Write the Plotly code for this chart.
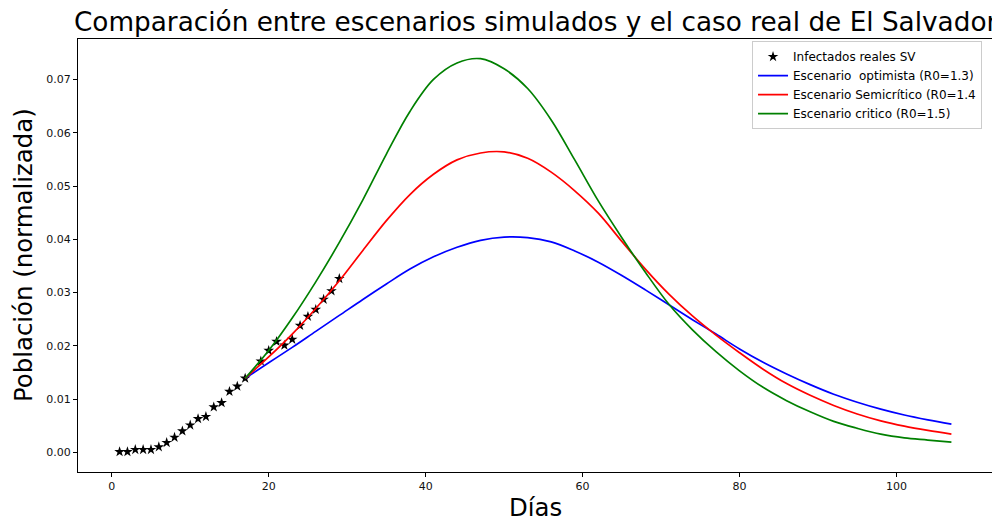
import plotly.graph_objects as go

# Real infected (normalized), El Salvador
real_days = [1, 2, 3, 4, 5, 6, 7, 8, 9, 10, 11, 12, 13, 14, 15, 16, 17,
             19, 20, 21, 22, 23, 24, 25, 26, 27, 28, 29]
real_vals = [0.0001, 0.0001, 0.0005, 0.0005, 0.0005, 0.0010, 0.0018, 0.0028,
             0.0040, 0.0051, 0.0063, 0.0067, 0.0085, 0.0093, 0.0114, 0.0124,
             0.0139, 0.0171, 0.0191, 0.0208, 0.0201, 0.0212, 0.0238, 0.0255,
             0.0268, 0.0287, 0.0303, 0.0326]

# Simulated scenarios (sampled every 3 days)
sim_days = [17, 20, 23, 26, 29, 32, 35, 38, 41, 44, 47, 50, 53, 56, 59, 62,
            65, 68, 71, 74, 77, 80, 83, 86, 89, 92, 95, 98, 101, 104, 107]
optimista = [0.0139, 0.0168, 0.0197, 0.0227, 0.0257, 0.0287, 0.0316, 0.0344,
             0.0367, 0.0385, 0.0398, 0.0404, 0.0403, 0.0395, 0.0378, 0.0357,
             0.0332, 0.0305, 0.0277, 0.0249, 0.0222, 0.0194, 0.0169, 0.0147,
             0.0127, 0.0109, 0.0094, 0.0081, 0.0070, 0.0061, 0.0053]
semicritico = [0.0139, 0.0179, 0.0222, 0.0270, 0.0322, 0.0379, 0.0435, 0.0484,
               0.0522, 0.0549, 0.0562, 0.0564, 0.0552, 0.0526, 0.0491, 0.0449,
               0.0396, 0.0344, 0.0297, 0.0256, 0.0220, 0.0187, 0.0156, 0.0129,
               0.0107, 0.0088, 0.0072, 0.0059, 0.0049, 0.0041, 0.0034]
critico = [0.0139, 0.0191, 0.0252, 0.0320, 0.0394, 0.0474, 0.0560, 0.0640,
           0.0700, 0.0731, 0.0739, 0.0720, 0.0683, 0.0624, 0.0549, 0.0472,
           0.0403, 0.0338, 0.0278, 0.0230, 0.0189, 0.0153, 0.0122, 0.0097,
           0.0076, 0.0058, 0.0045, 0.0034, 0.0027, 0.0023, 0.0019]

x_ticks = [0, 20, 40, 60, 80, 100]
y_ticks = [0.00, 0.01, 0.02, 0.03, 0.04, 0.05, 0.06, 0.07]

FONT = "DejaVu Sans"

fig = go.Figure()
fig.add_trace(go.Scatter(
    x=real_days, y=real_vals, mode="markers", name="Infectados reales SV",
    marker=dict(symbol="star", size=8, color="black", line=dict(width=0))))
fig.add_trace(go.Scatter(
    x=sim_days, y=optimista, mode="lines", name="Escenario \u00a0optimista (R0=1.3)",
    line=dict(color="#0000ff", width=1.7, shape="spline", smoothing=1.0)))
fig.add_trace(go.Scatter(
    x=sim_days, y=semicritico, mode="lines", name="Escenario Semicrítico (R0=1.4",
    line=dict(color="#ff0000", width=1.7, shape="spline", smoothing=1.0)))
fig.add_trace(go.Scatter(
    x=sim_days, y=critico, mode="lines", name="Escenario critico (R0=1.5)",
    line=dict(color="#008000", width=1.7, shape="spline", smoothing=1.0)))

axis_common = dict(
    showline=True, linecolor="black", linewidth=1, mirror=True,
    ticks="outside", ticklen=4, tickcolor="black", tickwidth=1,
    showgrid=False, zeroline=False, automargin=False,
    tickfont=dict(family=FONT, size=11, color="#111111"),
)

# The page body has an 8px margin, so the figure is sized 992x513
fig.update_layout(
    width=992, height=513,
    paper_bgcolor="white", plot_bgcolor="white",
    margin=dict(l=70, r=7, t=31, b=49, autoexpand=False),
    font=dict(family=FONT, color="black"),
    xaxis=dict(range=[-4.3, 112.3], tickvals=x_ticks,
               ticktext=[str(v) for v in x_ticks], **axis_common),
    yaxis=dict(range=[-0.0037, 0.0776], tickvals=y_ticks,
               ticktext=[f"{v:.2f}" for v in y_ticks], **axis_common),
    legend=dict(x=0.988, y=0.995, xanchor="right", yanchor="top",
                bgcolor="white", bordercolor="#cccccc", borderwidth=1,
                font=dict(family=FONT, size=12, color="black"),
                tracegroupgap=0, itemwidth=30),
    showlegend=True,
    annotations=[
        dict(text="Comparación entre escenarios simulados y el caso real de El Salvador",
             xref="paper", yref="paper", x=0.5, y=1 + 17 / 433,
             xanchor="center", yanchor="middle", showarrow=False,
             font=dict(family=FONT, size=26.3, color="black")),
        dict(text="Días", xref="paper", yref="paper", x=0.5, y=-35 / 433,
             xanchor="center", yanchor="middle", showarrow=False,
             font=dict(family=FONT, size=24.4, color="black")),
        dict(text="Población (normalizada)", xref="paper", yref="paper",
             x=-55 / 915, y=0.501, xanchor="center", yanchor="middle",
             textangle=-90, showarrow=False,
             font=dict(family=FONT, size=24.4, color="black")),
    ],
)

fig.write_html("out.html")
